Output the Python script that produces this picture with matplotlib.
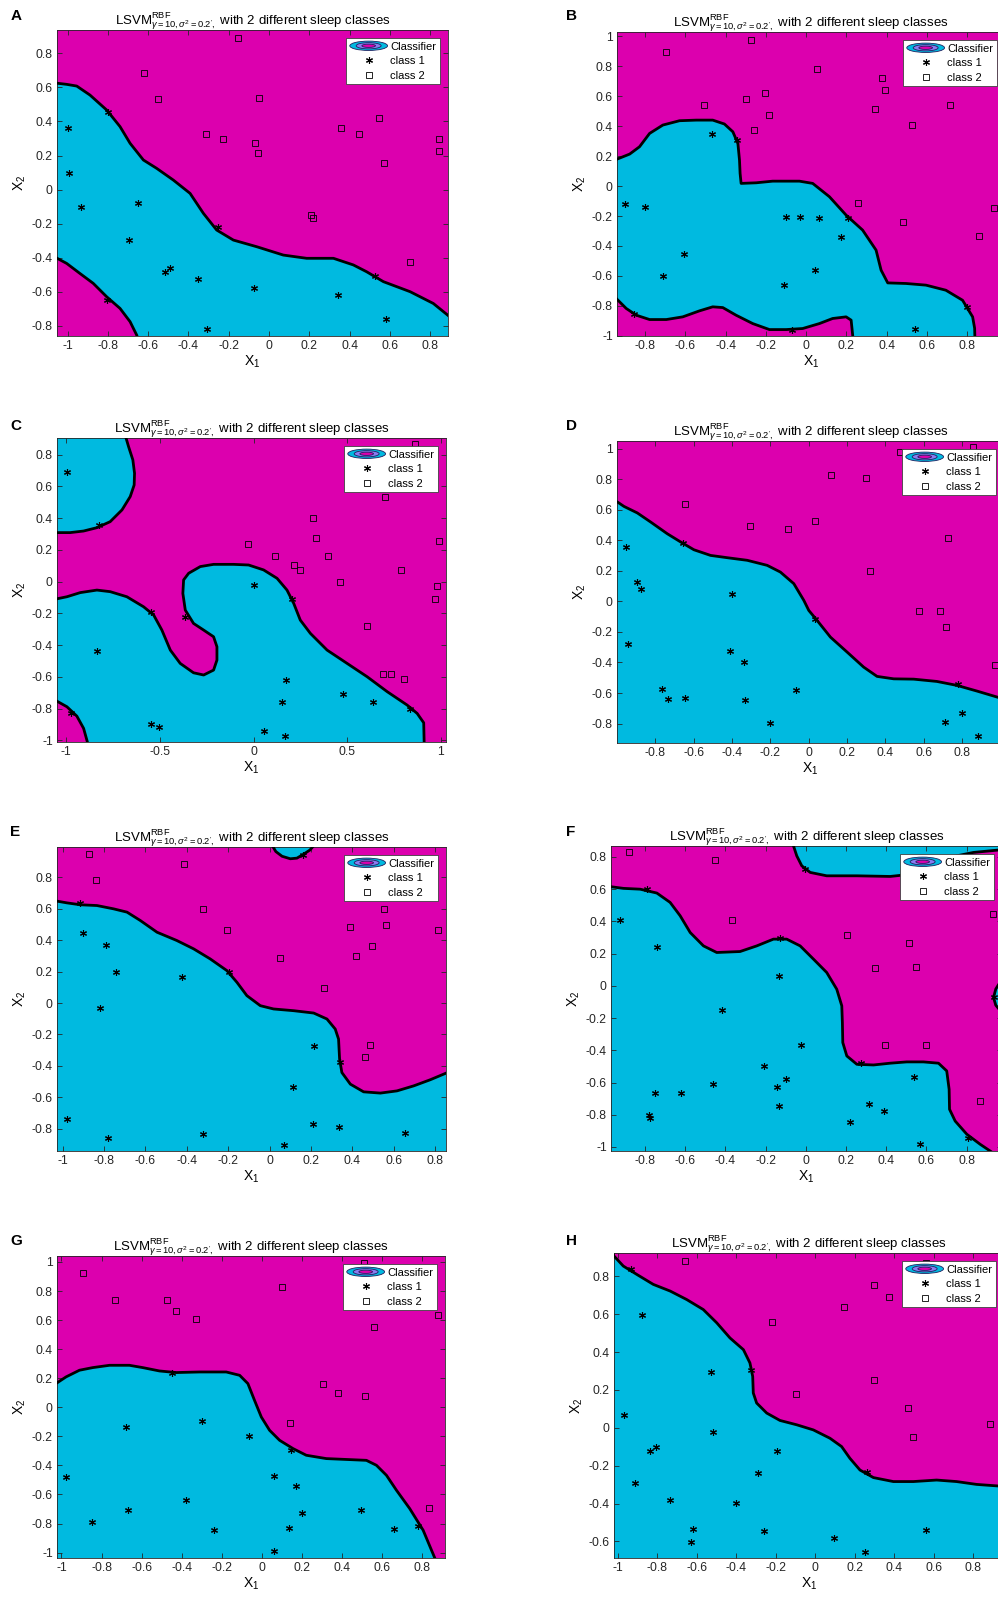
import numpy as np
import matplotlib
matplotlib.use('Agg')
import matplotlib.pyplot as plt
from matplotlib.patches import Ellipse
from matplotlib.legend_handler import HandlerBase
from matplotlib.lines import Line2D
from matplotlib.ticker import FuncFormatter

plt.rcParams['font.family'] = ['Liberation Sans', 'DejaVu Sans']
plt.rcParams['mathtext.fontset'] = 'custom'
plt.rcParams['mathtext.rm'] = 'Liberation Sans'
plt.rcParams['mathtext.it'] = 'Liberation Sans:italic'
plt.rcParams['mathtext.bf'] = 'Liberation Sans:bold'
plt.rcParams['axes.unicode_minus'] = False

MAGENTA = '#DC00AE'
CYAN = '#00BAE0'
AST = (6, 2, 0)

TITRE = r'LSV$\mathrm{M}^{\mathrm{RBF}}_{\gamma=10,\sigma^{2}=0.2^{\prime},}$ with 2 different sleep classes'

# ============
# Panneau A
# ============
A_cyan = [[(-1.12, 0.634), (-1.005, 0.618), (-0.955, 0.608), (-0.889, 0.555), (-0.806, 0.467),
           (-0.74, 0.37), (-0.69, 0.272), (-0.624, 0.174), (-0.558, 0.125), (-0.475, 0.056),
           (-0.392, -0.022), (-0.326, -0.139), (-0.26, -0.237), (-0.177, -0.296), (-0.061, -0.335),
           (0.071, -0.384), (0.187, -0.403), (0.32, -0.403), (0.419, -0.442), (0.485, -0.482),
           (0.568, -0.54), (0.701, -0.599), (0.816, -0.668), (0.887, -0.736), (0.95, -0.80),
           (0.95, -1.2), (-0.64, -1.2), (-0.645, -0.90), (-0.657, -0.854), (-0.69, -0.775),
           (-0.74, -0.697), (-0.806, -0.629), (-0.873, -0.55), (-0.939, -0.492), (-1.005, -0.433),
           (-1.12, -0.36)]]
A_class1 = [(-1.0, 0.36), (-0.992, 0.095), (-0.934, -0.1), (-0.649, -0.081), (-0.695, -0.296),
            (-0.516, -0.486), (-0.492, -0.462), (-0.354, -0.527), (-0.074, -0.58), (-0.31, -0.82),
            (0.345, -0.619), (0.58, -0.762), (-0.798, 0.458), (-0.251, -0.218), (0.527, -0.507),
            (-0.803, -0.648)]
A_class2 = [(-0.155, 0.892), (-0.619, 0.687), (-0.55, 0.53), (-0.048, 0.54), (-0.313, 0.326),
            (-0.227, 0.295), (-0.069, 0.272), (-0.053, 0.217), (0.358, 0.364), (0.449, 0.325),
            (0.548, 0.422), (0.571, 0.154), (0.846, 0.295), (0.846, 0.227), (0.207, -0.149),
            (0.22, -0.169), (0.7, -0.423)]

# ============
# Panneau B
# ============
B_cyan = [[(-1.0, 0.165), (-0.944, 0.178), (-0.877, 0.214), (-0.828, 0.263), (-0.778, 0.352),
           (-0.712, 0.408), (-0.629, 0.437), (-0.546, 0.441), (-0.464, 0.441), (-0.406, 0.415),
           (-0.364, 0.363), (-0.339, 0.285), (-0.331, 0.174), (-0.328, 0.085), (-0.323, 0.018),
           (-0.248, 0.022), (-0.166, 0.033), (-0.033, 0.033), (0.033, 0.018), (0.116, -0.071),
           (0.199, -0.194), (0.281, -0.294), (0.348, -0.428), (0.373, -0.562), (0.406, -0.647),
           (0.497, -0.651), (0.596, -0.662), (0.695, -0.696), (0.778, -0.763), (0.828, -0.874),
           (0.838, -0.95), (0.841, -1.1), (0.235, -1.1), (0.232, -1.0), (0.224, -0.896),
           (0.199, -0.874), (0.132, -0.885), (0.066, -0.919), (-0.017, -0.952), (-0.099, -0.959),
           (-0.182, -0.959), (-0.265, -0.919), (-0.348, -0.863), (-0.414, -0.812), (-0.464, -0.807),
           (-0.53, -0.834), (-0.613, -0.874), (-0.695, -0.892), (-0.778, -0.892), (-0.844, -0.863),
           (-0.894, -0.818), (-0.944, -0.751), (-1.0, -0.69)]]
B_class1 = [(-0.899, -0.12), (-0.803, -0.138), (-0.712, -0.602), (-0.608, -0.455), (-0.469, 0.346),
            (-0.099, -0.205), (-0.028, -0.205), (0.063, -0.216), (0.174, -0.343), (0.045, -0.562),
            (-0.111, -0.662), (0.541, -0.957), (-0.343, 0.308), (0.207, -0.216), (0.8, -0.807),
            (-0.856, -0.852), (-0.071, -0.963)]
B_class2 = [(-0.695, 0.899), (-0.276, 0.977), (0.053, 0.783), (0.377, 0.72), (0.394, 0.642),
            (-0.204, 0.62), (-0.301, 0.58), (-0.508, 0.542), (-0.185, 0.475), (-0.26, 0.375),
            (0.344, 0.513), (0.717, 0.54), (0.525, 0.408), (0.257, -0.111), (0.483, -0.243),
            (0.861, -0.332), (0.935, -0.149)]

# ============
# Panneau C
# ============
C_cyan = [[(-0.70, 0.98), (-0.668, 0.851), (-0.645, 0.767), (-0.636, 0.683), (-0.638, 0.609),
           (-0.659, 0.536), (-0.703, 0.452), (-0.766, 0.378), (-0.837, 0.340), (-0.908, 0.319),
           (-0.98, 0.309), (-1.1, 0.309), (-1.1, 0.98)],
          [(-1.1, -0.12), (-0.997, -0.095), (-0.926, -0.069), (-0.837, -0.053), (-0.766, -0.063),
           (-0.677, -0.095), (-0.588, -0.158), (-0.534, -0.21), (-0.49, -0.305), (-0.445, -0.431),
           (-0.392, -0.515), (-0.321, -0.574), (-0.267, -0.588), (-0.214, -0.557), (-0.196, -0.494),
           (-0.196, -0.41), (-0.214, -0.347), (-0.267, -0.305), (-0.321, -0.263), (-0.365, -0.179),
           (-0.378, -0.074), (-0.374, 0.011), (-0.347, 0.053), (-0.285, 0.095), (-0.214, 0.109),
           (-0.107, 0.109), (-0.027, 0.105), (0.053, 0.074), (0.125, 0.021), (0.178, -0.053),
           (0.214, -0.137), (0.249, -0.242), (0.303, -0.326), (0.392, -0.431), (0.499, -0.515),
           (0.606, -0.599), (0.713, -0.693), (0.819, -0.777), (0.873, -0.83), (0.908, -0.889),
           (0.912, -1.1), (-0.885, -1.1), (-0.887, -1.013), (-0.908, -0.924), (-0.944, -0.847),
           (-0.997, -0.788), (-1.1, -0.72)]]
C_class1 = [(-0.997, 0.693), (-0.837, -0.437), (-0.547, -0.899), (-0.504, -0.918), (0.0, -0.021),
            (0.173, -0.62), (0.151, -0.756), (0.053, -0.939), (0.169, -0.971), (0.477, -0.708),
            (0.636, -0.761), (-0.825, 0.357), (-0.549, -0.189), (-0.369, -0.221), (0.205, -0.111),
            (0.837, -0.803), (-0.974, -0.83)]
C_class2 = [(0.86, 0.866), (0.7, 0.536), (0.317, 0.399), (0.335, 0.273), (-0.032, 0.237),
            (0.116, 0.164), (0.397, 0.164), (0.988, 0.258), (0.217, 0.105), (0.249, 0.074),
            (0.789, 0.074), (0.459, 0.0), (0.98, -0.025), (0.967, -0.109), (0.606, -0.277),
            (0.691, -0.584), (0.734, -0.584), (0.801, -0.613)]

# ============
# Panneau D
# ============
D_cyan = [[(-1.1, 0.68), (-0.998, 0.651), (-0.964, 0.622), (-0.894, 0.579), (-0.825, 0.52),
           (-0.738, 0.443), (-0.668, 0.389), (-0.599, 0.338), (-0.512, 0.301), (-0.425, 0.286),
           (-0.321, 0.269), (-0.217, 0.236), (-0.148, 0.192), (-0.078, 0.116), (-0.026, 0.007),
           (0.0, -0.059), (0.043, -0.124), (0.113, -0.234), (0.2, -0.332), (0.286, -0.43),
           (0.356, -0.491), (0.443, -0.507), (0.547, -0.509), (0.668, -0.524), (0.773, -0.55),
           (0.877, -0.587), (0.984, -0.627), (1.1, -0.67), (1.1, -1.2), (-1.1, -1.2)]]
D_class1 = [(-0.951, 0.356), (-0.894, 0.127), (-0.877, 0.083), (-0.941, -0.277), (-0.399, 0.046),
            (-0.411, -0.325), (-0.339, -0.397), (-0.767, -0.572), (-0.734, -0.642), (-0.648, -0.631),
            (-0.335, -0.648), (-0.203, -0.797), (-0.066, -0.579), (0.708, -0.79), (0.799, -0.731),
            (0.88, -0.884), (-0.656, 0.382), (0.03, -0.114), (0.776, -0.544)]
D_class2 = [(0.474, 0.978), (0.116, 0.83), (0.3, 0.81), (-0.646, 0.64), (-0.304, 0.493),
            (-0.109, 0.476), (0.03, 0.526), (0.724, 0.417), (0.321, 0.197), (0.573, -0.063),
            (0.686, -0.063), (0.717, -0.168), (0.972, -0.419), (0.856, 1.011)]

# ============
# Panneau E
# ============
E_cyan = [[(-1.1, 0.66), (-1.027, 0.649), (-0.979, 0.638), (-0.915, 0.626), (-0.834, 0.621),
           (-0.754, 0.6), (-0.689, 0.579), (-0.625, 0.526), (-0.544, 0.451), (-0.448, 0.398),
           (-0.367, 0.345), (-0.287, 0.281), (-0.206, 0.206), (-0.158, 0.132), (-0.11, 0.047),
           (-0.045, -0.017), (0.019, -0.038), (0.116, -0.049), (0.213, -0.064), (0.277, -0.102),
           (0.317, -0.166), (0.333, -0.23), (0.338, -0.357), (0.349, -0.443), (0.39, -0.517),
           (0.454, -0.566), (0.535, -0.574), (0.615, -0.56), (0.696, -0.528), (0.776, -0.489),
           (0.852, -0.447), (0.95, -0.39), (0.95, -1.2), (-1.1, -1.2)],
          [(0.005, 1.02), (0.03, 0.965), (0.06, 0.935), (0.1, 0.919), (0.132, 0.923),
           (0.164, 0.948), (0.195, 0.975), (0.225, 1.02)]]
E_class1 = [(-0.902, 0.445), (-0.789, 0.37), (-0.742, 0.196), (-0.424, 0.164), (-0.821, -0.032),
            (-0.979, -0.74), (-0.781, -0.862), (-0.324, -0.836), (0.068, -0.906), (0.113, -0.538),
            (0.216, -0.272), (0.208, -0.772), (0.337, -0.787), (0.652, -0.83), (-0.915, 0.636),
            (-0.198, 0.196), (0.341, -0.379), (0.161, 0.94)]
E_class2 = [(-0.874, 0.947), (-0.415, 0.883), (-0.837, 0.781), (-0.324, 0.596), (-0.206, 0.468),
            (0.052, 0.285), (0.39, 0.483), (0.494, 0.366), (0.417, 0.302), (0.554, 0.596),
            (0.564, 0.5), (0.813, 0.466), (0.261, 0.096), (0.483, -0.268), (0.462, -0.347)]

# ============
# Panneau F
# ============
F_cyan = [[(-1.1, 0.62), (-0.968, 0.615), (-0.907, 0.605), (-0.824, 0.6), (-0.741, 0.576),
           (-0.675, 0.518), (-0.625, 0.435), (-0.575, 0.331), (-0.509, 0.248), (-0.443, 0.207),
           (-0.327, 0.213), (-0.244, 0.248), (-0.161, 0.29), (-0.095, 0.29), (-0.028, 0.248),
           (0.038, 0.166), (0.104, 0.083), (0.154, -0.021), (0.179, -0.124), (0.182, -0.228),
           (0.184, -0.352), (0.204, -0.435), (0.254, -0.487), (0.337, -0.491), (0.42, -0.48),
           (0.502, -0.472), (0.585, -0.472), (0.66, -0.48), (0.701, -0.528), (0.713, -0.642),
           (0.715, -0.766), (0.743, -0.839), (0.801, -0.921), (0.867, -0.983), (0.917, -1.025),
           (0.98, -1.08), (-1.1, -1.08)],
          [(-0.07, 0.95), (-0.061, 0.868), (-0.045, 0.807), (-0.02, 0.745), (0.022, 0.704),
           (0.104, 0.683), (0.254, 0.683), (0.42, 0.679), (0.502, 0.69), (0.635, 0.745),
           (0.751, 0.807), (0.834, 0.828), (0.958, 0.843), (1.1, 0.85), (1.1, 0.95)],
          [(0.965, 0.02), (0.945, -0.02), (0.934, -0.072), (0.945, -0.12), (0.965, -0.15),
           (1.1, -0.15), (1.1, 0.02)]]
F_class1 = [(-0.924, 0.408), (-0.738, 0.244), (-0.415, -0.151), (-0.133, 0.062), (-0.023, -0.366),
            (-0.206, -0.497), (-0.464, -0.607), (-0.098, -0.576), (-0.141, -0.627), (-0.133, -0.745),
            (-0.75, -0.667), (-0.622, -0.663), (-0.778, -0.803), (-0.774, -0.818), (0.221, -0.843),
            (0.312, -0.731), (0.391, -0.776), (0.539, -0.563), (0.569, -0.979), (-0.791, 0.6),
            (-0.128, 0.294), (-0.003, 0.725), (0.274, -0.476), (0.806, -0.942), (0.934, -0.072)]
F_class2 = [(-0.879, 0.828), (-0.451, 0.783), (-0.368, 0.41), (0.207, 0.315), (0.514, 0.265),
            (0.345, 0.11), (0.547, 0.114), (0.395, -0.366), (0.597, -0.366), (0.867, -0.714),
            (0.929, 0.445)]

# ============
# Panneau G
# ============
G_cyan = [[(-1.1, 0.13), (-1.023, 0.167), (-0.977, 0.209), (-0.91, 0.255), (-0.844, 0.273),
           (-0.76, 0.289), (-0.661, 0.289), (-0.594, 0.273), (-0.511, 0.25), (-0.428, 0.239),
           (-0.311, 0.243), (-0.178, 0.243), (-0.111, 0.22), (-0.07, 0.163), (-0.037, 0.048),
           (-0.003, -0.067), (0.038, -0.158), (0.088, -0.227), (0.155, -0.284), (0.221, -0.33),
           (0.321, -0.353), (0.438, -0.36), (0.521, -0.365), (0.571, -0.399), (0.621, -0.468),
           (0.671, -0.571), (0.737, -0.697), (0.804, -0.846), (0.862, -1.037), (0.88, -1.1),
           (-1.1, -1.1)]]
G_class1 = [(-0.677, -0.135), (-0.298, -0.096), (-0.062, -0.2), (-0.977, -0.479), (-0.666, -0.709),
            (-0.847, -0.789), (-0.378, -0.635), (-0.24, -0.842), (0.058, -0.472), (0.168, -0.544),
            (0.201, -0.727), (0.135, -0.828), (0.058, -0.989), (0.496, -0.709), (0.659, -0.835),
            (-0.449, 0.239), (0.146, -0.291), (0.779, -0.817)]
G_class2 = [(-0.89, 0.924), (-0.735, 0.741), (-0.474, 0.741), (-0.428, 0.661), (-0.328, 0.606),
            (0.1, 0.828), (0.507, 0.995), (0.557, 0.553), (0.879, 0.638), (0.304, 0.163),
            (0.379, 0.099), (0.512, 0.078), (0.138, -0.106), (0.834, -0.69)]

# ============
# Panneau H
# ============
H_cyan = [[(-1.04, 0.95), (-1.019, 0.908), (-0.972, 0.855), (-0.904, 0.811), (-0.82, 0.758),
           (-0.735, 0.723), (-0.651, 0.678), (-0.567, 0.625), (-0.499, 0.555), (-0.432, 0.475),
           (-0.364, 0.413), (-0.331, 0.343), (-0.317, 0.272), (-0.314, 0.184), (-0.297, 0.131),
           (-0.246, 0.078), (-0.179, 0.039), (-0.094, 0.016), (-0.01, -0.011), (0.074, -0.055),
           (0.133, -0.099), (0.175, -0.161), (0.226, -0.223), (0.294, -0.263), (0.395, -0.284),
           (0.496, -0.284), (0.614, -0.276), (0.715, -0.284), (0.816, -0.299), (0.921, -0.307),
           (1.1, -0.315), (1.1, -0.8), (-1.1, -0.8), (-1.1, 0.95)]]
H_class1 = [(-0.879, 0.594), (-0.53, 0.293), (-0.967, 0.069), (-0.516, -0.023), (-0.837, -0.125),
            (-0.806, -0.102), (-0.192, -0.125), (-0.292, -0.24), (-0.913, -0.293), (-0.736, -0.382),
            (-0.403, -0.396), (-0.621, -0.535), (-0.631, -0.606), (-0.26, -0.546), (0.094, -0.581),
            (0.251, -0.655), (0.56, -0.541), (-0.935, 0.837), (-0.326, 0.307), (0.26, -0.231)]
H_class2 = [(-0.66, 0.882), (0.299, 0.753), (0.373, 0.691), (0.145, 0.638), (-0.221, 0.558),
            (-0.098, 0.178), (0.297, 0.251), (0.467, 0.104), (0.493, -0.051), (0.884, 0.019),
            (0.56, 0.873)]


# Icone de la legende "Classifier"
class ClassifierKey:
    pass


class HandlerClassifier(HandlerBase):
    def create_artists(self, legend, orig_handle, xdescent, ydescent, width, height, fontsize, trans):
        cx = 0.5 * width - xdescent
        cy = 0.5 * height - ydescent
        arts = []
        for fw, fh, col in [(1.0, 1.2, CYAN), (0.66, 0.8, '#8a7cf0'), (0.36, 0.42, MAGENTA)]:
            arts.append(Ellipse((cx, cy), fw * width, fh * height, facecolor=col,
                                edgecolor='#202060', lw=0.6, transform=trans))
        return arts


fig = plt.figure(figsize=(9.98, 15.98), dpi=100)
W, H = 998.0, 1598.0


def ticks(lo, hi, step):
    return np.round(np.arange(lo, hi + 1e-9, step), 2)


def panneau(px, letter, letter_px, cyan, class1, class2, xlim, ylim, xt, yt):
    x0, y0, x1, y1 = px
    ax = fig.add_axes([x0 / W, 1 - y1 / H, (x1 - x0) / W, (y1 - y0) / H])
    ax.set_facecolor(MAGENTA)
    for reg in cyan:
        xs, ys = zip(*reg)
        ax.fill(xs, ys, color=CYAN, lw=0, zorder=1)
    c1x, c1y = zip(*class1)
    c2x, c2y = zip(*class2)
    ax.plot(c1x, c1y, ls='none', marker=AST, color='black', ms=5, mew=0.8, zorder=2)
    ax.plot(c2x, c2y, ls='none', marker='s', mfc='none', mec='black', ms=3.8, mew=0.6, zorder=2)
    for reg in cyan:
        xs, ys = zip(*reg)
        ax.fill(xs, ys, fill=False, ec='black', lw=2.0, zorder=3, joinstyle='round')
    ax.set_xlim(xlim)
    ax.set_ylim(ylim)
    ax.set_xticks(xt)
    ax.set_yticks(yt)
    fmt = FuncFormatter(lambda v, p: '%g' % (round(v, 4) + 0.0))
    ax.xaxis.set_major_formatter(fmt)
    ax.yaxis.set_major_formatter(fmt)
    ax.tick_params(direction='in', top=True, right=True, length=3.5, width=0.6,
                   labelsize=8.7, colors='#262626', pad=3)
    for s in ax.spines.values():
        s.set_linewidth(0.6)
        s.set_color('#262626')
    ax.set_title(TITRE, fontsize=9.5, pad=4)
    ax.set_xlabel('X$_1$', fontsize=10, labelpad=1)
    ax.set_ylabel('X$_2$', fontsize=10, labelpad=3)

    h_cls = Line2D([], [], ls='none', marker=AST, color='black', ms=5, mew=0.8)
    h_sq = Line2D([], [], ls='none', marker='s', mfc='none', mec='black', ms=3.8, mew=0.6)
    leg = ax.legend([ClassifierKey(), h_cls, h_sq], ['Classifier', 'class 1', 'class 2'],
                    handler_map={ClassifierKey: HandlerClassifier()},
                    loc='upper right', fontsize=8, frameon=True, fancybox=False,
                    framealpha=1, edgecolor='#404040', borderaxespad=0.7,
                    handlelength=3.4, handletextpad=0.25, labelspacing=0.4, borderpad=0.35)
    leg.get_frame().set_linewidth(0.6)
    leg.set_zorder(5)

    fig.text(letter_px[0] / W, 1 - letter_px[1] / H, letter, fontsize=11, weight='bold',
             ha='left', va='top')
    return ax


panneau((57, 30, 448, 336), 'A', (11, 9), A_cyan, A_class1, A_class2,
        (-1.053, 0.889), (-0.859, 0.937), ticks(-1, 0.8, 0.2), ticks(-0.8, 0.8, 0.2))
panneau((617, 32, 1005, 336), 'B', (566, 9), B_cyan, B_class1, B_class2,
        (-0.94, 0.989), (-1.002, 1.03), ticks(-0.8, 0.8, 0.2), ticks(-1, 1, 0.2))
panneau((57, 438, 446, 742), 'C', (10, 419), C_cyan, C_class1, C_class2,
        (-1.05, 1.027), (-1.01, 0.905), ticks(-1, 1, 0.5), ticks(-1, 0.8, 0.2))
panneau((617, 441, 1004, 743), 'D', (566, 419), D_cyan, D_class1, D_class2,
        (-1.0, 1.018), (-0.927, 1.05), ticks(-0.8, 0.8, 0.2), ticks(-0.8, 1, 0.2))
panneau((57, 847, 446, 1151), 'E', (10, 825), E_cyan, E_class1, E_class2,
        (-1.027, 0.852), (-0.943, 0.994), ticks(-1, 0.8, 0.2), ticks(-0.8, 0.8, 0.2))
panneau((611, 846, 1002, 1151), 'F', (566, 825), F_cyan, F_class1, F_class2,
        (-0.969, 0.976), (-1.025, 0.868), ticks(-0.8, 0.8, 0.2), ticks(-1, 0.8, 0.2))
panneau((57, 1256, 445, 1558), 'G', (10, 1234), G_cyan, G_class1, G_class2,
        (-1.022, 0.913), (-1.037, 1.041), ticks(-1, 0.8, 0.2), ticks(-1, 1, 0.2))
panneau((614, 1253, 1004, 1558), 'H', (566, 1234), H_cyan, H_class1, H_class2,
        (-1.019, 0.955), (-0.688, 0.924), ticks(-1, 0.8, 0.2), ticks(-0.6, 0.8, 0.2))

plt.savefig('out.png', dpi=100)
